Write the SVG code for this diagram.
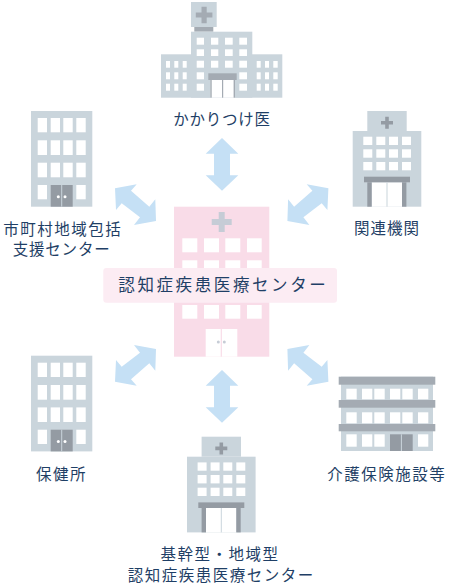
<svg xmlns="http://www.w3.org/2000/svg" xmlns:xlink="http://www.w3.org/1999/xlink" width="450" height="585" viewBox="0 0 450 585">
<style>
.b{fill:#cad5dc}.w{fill:#fff}.d{fill:#949ba3}.c{fill:#a4abb3}.a{fill:#c5e0f5}
text{font-family:"Noto Sans CJK JP","Noto Sans CJK SC",sans-serif;font-size:15.5px;fill:#1f3f66;letter-spacing:1.500px}
</style>
<defs>
<g id="office">
<rect class="b" x="31" y="111" width="61.3" height="95.7"/>
<g class="w">
<rect x="37.7" y="118" width="9.3" height="14.3"/><rect x="50.7" y="118" width="9.3" height="14.3"/><rect x="63.3" y="118" width="9.4" height="14.3"/><rect x="76.3" y="118" width="9.4" height="14.3"/>
<rect x="37.7" y="140.3" width="9.3" height="14.7"/><rect x="50.7" y="140.3" width="9.3" height="14.7"/><rect x="63.3" y="140.3" width="9.4" height="14.7"/><rect x="76.3" y="140.3" width="9.4" height="14.7"/>
<rect x="37.7" y="162.7" width="9.3" height="14.6"/><rect x="50.7" y="162.7" width="9.3" height="14.6"/><rect x="63.3" y="162.7" width="9.4" height="14.6"/><rect x="76.3" y="162.7" width="9.4" height="14.6"/>
<rect x="37.7" y="185" width="9.3" height="14.3"/><rect x="76.3" y="185" width="9.4" height="14.3"/>
</g>
<rect class="d" x="50.7" y="185" width="22" height="21.7"/>
<rect class="b" x="61.2" y="185" width="1" height="21.7"/>
<circle class="w" cx="58.3" cy="196.7" r="1.5"/><circle class="w" cx="65" cy="196.7" r="1.5"/>
</g>
<g id="hospital">
<rect class="b" x="367.3" y="111" width="39.4" height="20"/>
<rect class="b" x="352.7" y="131" width="68.6" height="75.7"/>
<path class="d" d="M385.2 116.7h3.6v4.2h4.2v3.6h-4.200v4.200h-3.600v-4.200h-4.200v-3.600h4.200z"/>
<g class="w">
<rect x="363.3" y="136.700" width="9" height="8.300"/><rect x="376.300" y="136.700" width="9" height="8.300"/><rect x="389" y="136.700" width="9" height="8.300"/><rect x="402" y="136.700" width="9" height="8.300"/>
<rect x="363.3" y="149.300" width="9" height="8.400"/><rect x="376.300" y="149.300" width="9" height="8.400"/><rect x="389" y="149.300" width="9" height="8.400"/><rect x="402" y="149.300" width="9" height="8.400"/>
<rect x="363.3" y="162" width="9" height="8.300"/><rect x="376.300" y="162" width="9" height="8.300"/><rect x="389" y="162" width="9" height="8.300"/><rect x="402" y="162" width="9" height="8.300"/>
<rect x="371.700" y="182.300" width="30.300" height="24.400"/>
</g>
<rect class="d" x="364" y="176.700" width="46" height="5.600"/>
<rect class="d" x="367.300" y="182.300" width="4.400" height="24.400"/>
<rect class="d" x="402" y="182.300" width="4.400" height="24.400"/>
<rect class="b" x="386.500" y="182.300" width="1" height="24.400"/>
</g>
<polygon id="diag" class="a" points="115,188.300 136.700,184.300 131,190.700 149.300,206.700 155.300,199.300 156,221 134,225 140,217.300 121.700,203.300 116,210"/>
<polygon id="vert" class="a" points="222,370 238.300,385.700 230,385.700 230,407.300 238.300,407.300 222,422.700 205.700,407.300 214,407.300 214,385.700 205.700,385.700"/>
</defs>
<g id="connectors">
<use href="#vert" transform="translate(0,-232)"/>
<use href="#vert"/>
<use href="#diag"/>
<use href="#diag" transform="matrix(-1 0 0 1 443.400 0)"/>
<use href="#diag" transform="matrix(1 0 0 -1 0 570)"/>
<use href="#diag" transform="matrix(-1 0 0 -1 443.400 570)"/>
</g>
<g id="node-center">
<rect x="174" y="206.700" width="95.300" height="150" fill="#f9dce8"/>
<path d="M218.700 212h6v7h7v6h-7v7h-6v-7h-7v-6h7z" fill="#c6ccd6"/>
<g class="w">
<rect x="182.300" y="238.300" width="15" height="14"/><rect x="204" y="238.300" width="15" height="14"/><rect x="225.300" y="238.300" width="15" height="14"/><rect x="247" y="238.300" width="14.700" height="14"/>
<rect x="182.300" y="260.300" width="15" height="14"/><rect x="204" y="260.300" width="15" height="14"/><rect x="225.300" y="260.300" width="15" height="14"/><rect x="247" y="260.300" width="14.700" height="14"/>
<rect x="182.300" y="305" width="15" height="13.700"/><rect x="204" y="305" width="15" height="13.700"/><rect x="225.300" y="305" width="15" height="13.700"/><rect x="247" y="305" width="14.700" height="13.700"/>
<rect x="205.700" y="329" width="31.600" height="27.700"/>
</g>
<rect x="220.700" y="329" width="1.200" height="27.700" fill="#f9dce8"/>
<circle cx="218.300" cy="342" r="1.500" fill="#c6ccd6"/><circle cx="224.300" cy="342" r="1.500" fill="#c6ccd6"/>
<rect x="103.300" y="268" width="233.700" height="34.700" rx="3" fill="#fcecf3"/>
<text x="118.300" y="291" style="font-size:16.500px;letter-spacing:2.600px">認知症疾患医療センター</text>
</g>
<g id="node-top">
<rect class="b" x="191" y="2" width="25.700" height="25"/>
<rect class="c" x="194.300" y="27" width="19" height="4.700"/>
<rect class="b" x="191" y="31.700" width="61.300" height="66"/>
<rect class="b" x="161" y="54.300" width="121.300" height="43.400"/>
<path class="c" d="M201.500 6.700h5.200v5.700h5.700v5.200h-5.700v5.700h-5.200v-5.700h-5.700v-5.200h5.700z"/>
<g class="w">
<rect x="196.700" y="37.700" width="7.300" height="7"/><rect x="211" y="37.700" width="7.300" height="7"/><rect x="225" y="37.700" width="7.700" height="7"/><rect x="239.300" y="37.700" width="7.700" height="7"/>
<rect x="196.700" y="49.300" width="7.300" height="6.700"/><rect x="211" y="49.300" width="7.300" height="6.700"/><rect x="225" y="49.300" width="7.700" height="6.700"/><rect x="239.300" y="49.300" width="7.700" height="6.700"/>
<rect x="196.700" y="60.700" width="7.300" height="7"/><rect x="211" y="60.700" width="7.300" height="7"/><rect x="225" y="60.700" width="7.700" height="7"/><rect x="239.300" y="60.700" width="7.700" height="7"/>
<rect x="196.700" y="72.300" width="7.300" height="7"/><rect x="239.300" y="72.300" width="7.700" height="7"/>
<rect x="196.700" y="83.700" width="7.300" height="7"/><rect x="239.300" y="83.700" width="7.700" height="7"/>
<rect x="166" y="61" width="4" height="6.700"/><rect x="174.300" y="61" width="4" height="6.700"/><rect x="182.700" y="61" width="4" height="6.700"/>
<rect x="166" y="72.300" width="4" height="7"/><rect x="174.300" y="72.300" width="4" height="7"/><rect x="182.700" y="72.300" width="4" height="7"/>
<rect x="166" y="83.700" width="4" height="7"/><rect x="174.300" y="83.700" width="4" height="7"/><rect x="182.700" y="83.700" width="4" height="7"/>
<rect x="256.700" y="61" width="4" height="6.700"/><rect x="265" y="61" width="4" height="6.700"/><rect x="273.300" y="61" width="4.400" height="6.700"/>
<rect x="256.700" y="72.300" width="4" height="7"/><rect x="265" y="72.300" width="4" height="7"/><rect x="273.300" y="72.300" width="4.400" height="7"/>
<rect x="256.700" y="83.700" width="4" height="7"/><rect x="265" y="83.700" width="4" height="7"/><rect x="273.300" y="83.700" width="4.400" height="7"/>
<rect x="210.300" y="80" width="24.700" height="17.700"/>
</g>
<rect class="c" x="208.300" y="73.300" width="28.400" height="6.700"/>
<rect class="c" x="210.300" y="80" width="1.400" height="17.700"/><rect class="c" x="233.600" y="80" width="1.400" height="17.700"/><rect class="c" x="222" y="80" width="1.200" height="17.700"/>
<text x="173.300" y="125" style="letter-spacing:.7px">かかりつけ医</text>
</g>
<g id="node-municipal">
<use href="#office"/>
<text x="3.300" y="235">市町村地域包括</text>
<text x="12.700" y="255" style="letter-spacing:.8px">支援センター</text>
</g>
<g id="node-related">
<use href="#hospital"/>
<text x="354" y="234" style="letter-spacing:1px">関連機関</text>
</g>
<g id="node-health">
<use href="#office" transform="translate(0,244.700)"/>
<text x="36" y="480">保健所</text>
</g>
<g id="node-care">
<rect class="b" x="341" y="376.700" width="92" height="74.300"/>
<rect class="c" x="338.700" y="376.700" width="96.600" height="8"/>
<rect class="c" x="338.700" y="400" width="96.600" height="7.700"/>
<rect class="c" x="338.700" y="424" width="96.600" height="7.300"/>
<g class="w">
<rect x="346.300" y="388.700" width="10.400" height="10.600"/><rect x="362" y="388.700" width="10.300" height="10.600"/><rect x="374.300" y="388.700" width="10.400" height="10.600"/><rect x="390" y="388.700" width="10.300" height="10.600"/><rect x="402.300" y="388.700" width="10.400" height="10.600"/><rect x="418" y="388.700" width="10.300" height="10.600"/>
<rect x="346.300" y="412.300" width="10.400" height="11"/><rect x="362" y="412.300" width="10.300" height="11"/><rect x="374.300" y="412.300" width="10.400" height="11"/><rect x="390" y="412.300" width="10.300" height="11"/><rect x="402.300" y="412.300" width="10.400" height="11"/><rect x="418" y="412.300" width="10.300" height="11"/>
<rect x="346.300" y="434.300" width="10.400" height="12.400"/><rect x="362" y="434.300" width="10.300" height="12.400"/><rect x="374.300" y="434.300" width="10.400" height="12.400"/><rect x="418" y="434.300" width="10.300" height="12.400"/>
</g>
<rect class="d" x="390" y="434.300" width="22.700" height="16.700"/>
<rect class="b" x="400.900" y="434.300" width="1" height="16.700"/>
<text x="327.300" y="480">介護保険施設等</text>
</g>
<g id="node-core">
<use href="#hospital" transform="translate(-165.700,325.700)"/>
<text x="160.500" y="560">基幹型・地域型</text>
<text x="127.700" y="581">認知症疾患医療センター</text>
</g>
</svg>
